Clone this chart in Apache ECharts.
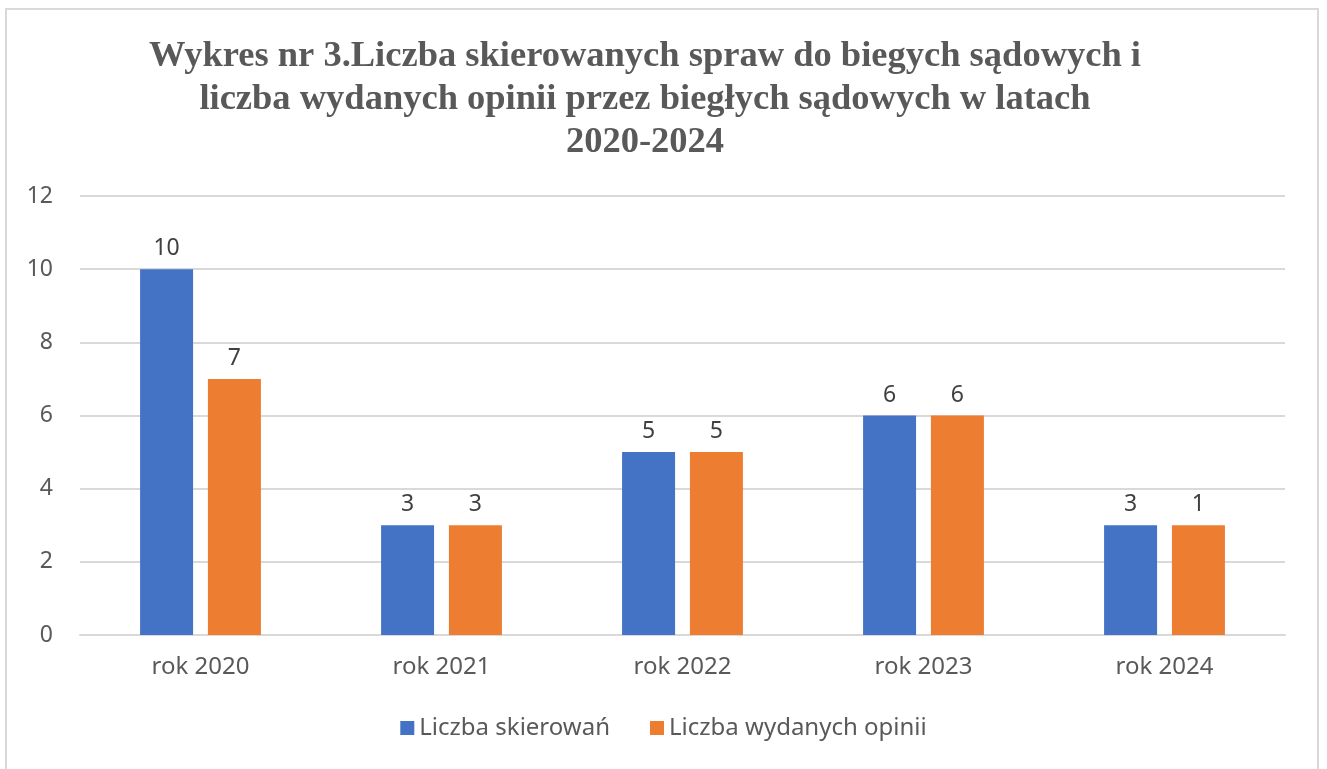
<!DOCTYPE html>
<html>
<head>
<meta charset="utf-8">
<script src="https://cdn.jsdelivr.net/npm/echarts@6/dist/echarts.min.js"></script>
<style>
  html, body { margin: 0; padding: 0; background: #ffffff; overflow: hidden; }
  #frame { position: absolute; left: 5px; top: 8px; width: 1314px; height: 800px; border: 2px solid #d9d9d9; box-sizing: border-box; }
  #main { position: absolute; left: 0; top: 0; width: 1327px; height: 769px; }
</style>
</head>
<body>
<div id="frame"></div>
<div id="main"></div>
<script>
  // Data
  const categories = ['rok 2020', 'rok 2021', 'rok 2022', 'rok 2023', 'rok 2024'];
  const skierowania = [10, 3, 5, 6, 3];
  const opinie = [7, 3, 5, 6, 3];
  // the source chart prints "1" above the last orange bar although it is drawn at 3
  const opinieLabels = ['7', '3', '5', '6', '1'];
  const seriesNames = ['Liczba skierowań', 'Liczba wydanych opinii'];
  const titleText = 'Wykres nr 3.Liczba skierowanych spraw do biegych sądowych i\nliczba wydanych opinii przez biegłych sądowych w latach\n2020-2024';

  const chart = echarts.init(document.getElementById('main'));

  const labelStyle = {
    show: true,
    position: 'top',
    distance: 9,
    fontFamily: 'Noto Sans',
    fontSize: 23,
    color: '#404040'
  };

  const option = {
    animation: false,
    title: {
      text: titleText,
      left: 640, // centre of the title block in the source (a bit left of the page centre)
      textAlign: 'center',
      top: 30,
      textStyle: {
        fontFamily: 'Liberation Serif',
        fontWeight: 'bold',
        fontSize: 36.5,
        lineHeight: 43,
        color: '#595959'
      }
    },
    legend: {
      bottom: 24,
      left: 'center',
      itemWidth: 14,
      itemHeight: 14,
      itemGap: 40,
      icon: 'rect',
      textStyle: { fontFamily: 'Noto Sans', fontSize: 24, color: '#595959' },
      data: seriesNames
    },
    grid: { left: 80, right: 42, top: 196, bottom: 134 },
    xAxis: {
      type: 'category',
      data: categories,
      axisTick: { show: false },
      axisLine: { lineStyle: { color: '#d9d9d9', width: 2 } },
      axisLabel: { fontFamily: 'Noto Sans', fontSize: 24, color: '#595959', margin: 20 }
    },
    yAxis: {
      type: 'value',
      min: 0,
      max: 12,
      interval: 2,
      axisLine: { show: false },
      axisTick: { show: false },
      axisLabel: { fontFamily: 'Noto Sans', fontSize: 23, color: '#595959', margin: 27 },
      splitLine: { lineStyle: { color: '#d9d9d9', width: 2 } }
    },
    series: [
      {
        name: seriesNames[0],
        type: 'bar',
        data: skierowania,
        barWidth: 53,
        barGap: '28%',
        itemStyle: { color: '#4472c4' },
        label: labelStyle
      },
      {
        name: seriesNames[1],
        type: 'bar',
        data: opinie,
        barWidth: 53,
        itemStyle: { color: '#ed7d31' },
        label: Object.assign({}, labelStyle, {
          formatter: function (p) { return opinieLabels[p.dataIndex]; }
        })
      }
    ]
  };

  chart.setOption(option);
</script>
</body>
</html>
